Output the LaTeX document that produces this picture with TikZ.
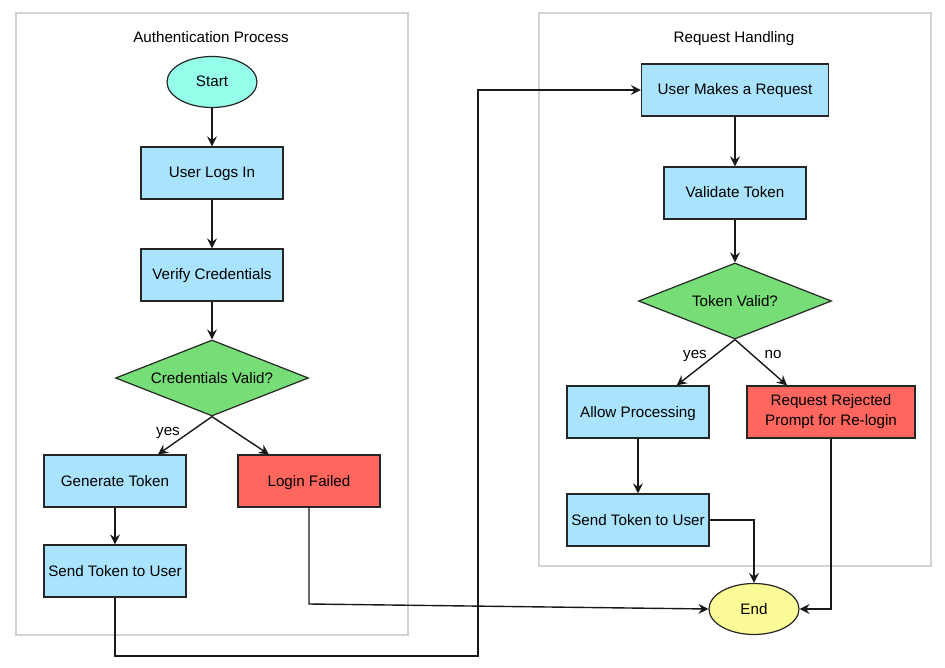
\documentclass[tikz,border=0pt]{standalone}
\usepackage{fontspec}
\setmainfont{Liberation Sans}
\usetikzlibrary{shapes.geometric,arrows.meta,calc}
\definecolor{boxblue}{HTML}{AAE3FC}
\definecolor{boxred}{HTML}{FF665E}
\definecolor{boxgreen}{HTML}{77DD77}
\definecolor{startcyan}{HTML}{96FFEA}
\definecolor{endyellow}{HTML}{FAFA96}
\definecolor{clustergray}{HTML}{D3D3D3}
\begin{document}
\begin{tikzpicture}[x=1pt,y=-1pt,
  every node/.style={font=\fontsize{15.2}{20}\selectfont, text=black, text height=13pt, text depth=3pt},
  proc/.style={rectangle, draw=black!85, line width=1.2pt, fill=boxblue, minimum width=142, minimum height=52, inner sep=0},
  fail/.style={proc, fill=boxred},
  decide/.style={diamond, draw=black!85, line width=1.2pt, fill=boxgreen, aspect=2.54, minimum width=193, minimum height=76, inner sep=0},
  term/.style={ellipse, draw=black!85, line width=1.2pt, minimum width=90, minimum height=51, inner sep=0},
  cluster/.style={rectangle, draw=clustergray, line width=1.5pt, inner sep=0},
  conn/.style={draw=black!90, line width=1.4pt, -{Stealth[length=10pt,width=10pt,inset=3.5pt]}},
  lbl/.style={inner sep=1pt}
]
\useasboundingbox (0,0) rectangle (945,668);
% clusters
\node[cluster, minimum width=392, minimum height=622] (auth) at (212,324) {};
\node[cluster, minimum width=392, minimum height=553] (reqh) at (735,289.5) {};
\node (t1) at (211,38) {Authentication Process};
\node (t2) at (734,38) {Request Handling};
% left
\node[term, fill=startcyan] (start) at (212,82) {Start};
\node[proc] (login) at (212,173) {User Logs In};
\node[proc] (verify) at (212,275) {Verify Credentials};
\node[decide] (cred) at (212,378) {Credentials Valid?};
\node[proc] (gen) at (115,481) {Generate Token};
\node[fail] (failed) at (309,481) {Login Failed};
\node[proc] (send1) at (115,571) {Send Token to User};
% right
\node[proc, minimum width=187] (req) at (735,90) {User Makes a Request};
\node[proc] (valid) at (735,193) {Validate Token};
\node[decide] (tv) at (735,301) {Token Valid?};
\node[proc] (allow) at (638,412) {Allow Processing};
\node[fail, minimum width=168, align=center, text height=, text depth=] (rej) at (831,412) {Request Rejected\\Prompt for Re-login};
\node[proc] (send2) at (638,520) {Send Token to User};
\node[term, fill=endyellow] (end) at (754,609) {End};
% labels
\node[lbl] (yes1) at (168,430) {yes};
\node[lbl] (yes2) at (695,353) {yes};
\node[lbl] (no2) at (773,353) {no};
% bend points
\coordinate (bendA) at (478,656);
\coordinate (bendB) at (478,90);
\coordinate (bendC) at (309,604);
% edges left
\draw[conn] (start) -- (login);
\draw[conn] (login) -- (verify);
\draw[conn] (verify) -- (cred);
\draw[conn] (cred.south) -- ($(gen.north west)!0.8!(gen.north east)$);
\draw[conn] (cred.south) -- ($(failed.north west)!0.22!(failed.north east)$);
\draw[conn] (gen) -- (send1);
\draw[conn] (send1.south) |- (bendA) -- (bendB) -- (req.west);
\draw[conn] (failed.south) -- (bendC) -- (end.west);
% edges right
\draw[conn] (req) -- (valid);
\draw[conn] (valid) -- (tv);
\draw[conn] (tv.south) -- ($(allow.north west)!0.77!(allow.north east)$);
\draw[conn] (tv.south) -- ($(rej.north west)!0.24!(rej.north east)$);
\draw[conn] (allow) -- (send2);
\draw[conn] (send2.east) -| (end.north);
\draw[conn] (rej.south) |- (end.east);
\end{tikzpicture}
\end{document}
